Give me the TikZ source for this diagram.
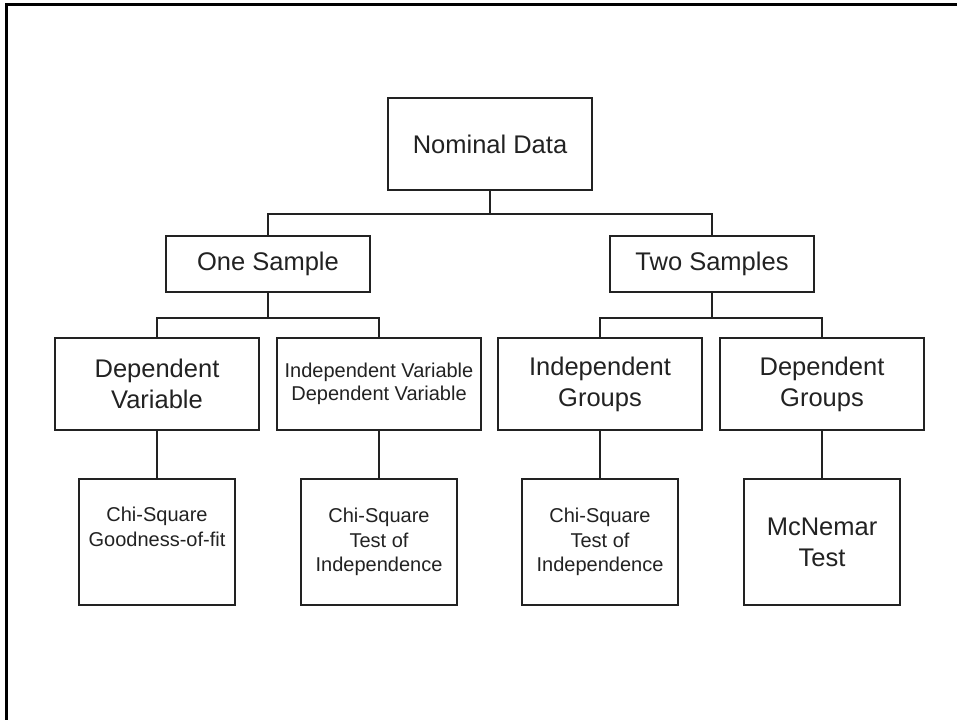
\documentclass[tikz,border=0pt]{standalone}
\usepackage{fontspec}
\setmainfont{Liberation Sans}
\definecolor{ink}{HTML}{222222}
\begin{document}
\begin{tikzpicture}[x=1pt,y=-1pt,
  box/.style={draw=ink,line width=2pt,fill=white,align=center,inner sep=0pt,text=ink},
  big/.style={font=\fontsize{25.5}{31}\selectfont},
  small/.style={font=\fontsize{20}{24.5}\selectfont},
  wide/.style={minimum width=204pt,minimum height=92pt},
  flat/.style={minimum width=204pt,minimum height=56pt},
  tall/.style={minimum width=156pt,minimum height=126pt},
  link/.style={draw=ink,line width=2pt}]
\useasboundingbox (0,0) rectangle (957,720);
\fill[black] (4.5,2.5) rectangle (957,5.5);
\fill[black] (4.5,2.5) rectangle (7.5,720);

\node[box,big,wide] (root) at (490,144) {Nominal Data};
\node[box,big,flat] (one) at (268,264) {One Sample};
\node[box,big,flat] (two) at (712,264) {Two Samples};
\node[box,big,wide] (dv) at (157,384) {Dependent\\Variable};
\node[box,small,wide,font=\fontsize{20}{23.5}\selectfont] (ivdv) at (379,384) {Independent Variable\\Dependent Variable};
\node[box,big,wide] (ig) at (600,384) {Independent\\Groups};
\node[box,big,wide] (dg) at (822,384) {Dependent\\Groups};
\node[box,small,tall] (c1) at (157,542) {Chi-Square\\Goodness-of-fit\\[6pt]};
\node[box,small,tall] (c2) at (379,542) {Chi-Square\\Test of\\Independence};
\node[box,small,tall] (c3) at (600,542) {Chi-Square\\Test of\\Independence};
\node[box,big,tall] (c4) at (822,542) {McNemar\\Test};

\draw[link] (root.south) -- ++(0,23) coordinate (j0);
\draw[link] (one.north) |- (j0) -| (two.north);
\draw[link] (one.south) -- ++(0,25) coordinate (j1);
\draw[link] (dv.north) |- (j1) -| (ivdv.north);
\draw[link] (two.south) -- ++(0,25) coordinate (j2);
\draw[link] (ig.north) |- (j2) -| (dg.north);
\draw[link] (dv.south) -- (c1.north);
\draw[link] (ivdv.south) -- (c2.north);
\draw[link] (ig.south) -- (c3.north);
\draw[link] (dg.south) -- (c4.north);
\end{tikzpicture}
\end{document}
